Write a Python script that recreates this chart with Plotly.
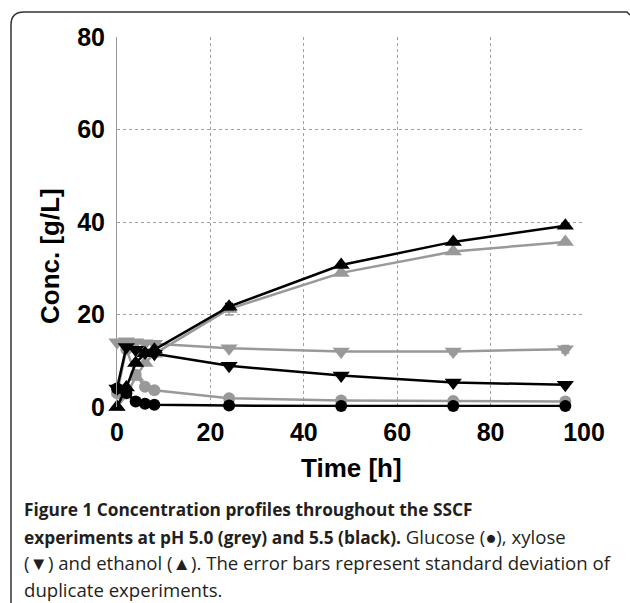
import plotly.graph_objects as go

# ---- data ----
time_h = [0, 2, 4, 6, 8, 24, 48, 72, 96]

grey_glucose = [3.0, 12.5, 7.0, 4.4, 3.6, 1.9, 1.4, 1.3, 1.2]
grey_xylose = [14.0, 14.2, 14.0, 13.8, 13.7, 12.7, 12.0, 12.0, 12.5]
grey_ethanol = [0.0, 2.5, 6.5, 9.5, 11.5, 21.2, 29.0, 33.6, 35.7]
grey_xylose_err = [0, 0, 0, 0, 0, 0.3, 0.3, 0.6, 0.8]
grey_ethanol_err = [0, 0, 0, 0, 0, 1.3, 0.4, 0.4, 0.3]

black_glucose = [4.0, 3.0, 1.2, 0.7, 0.5, 0.3, 0.2, 0.2, 0.2]
black_xylose = [4.0, 13.0, 12.4, 11.8, 11.5, 8.9, 6.8, 5.3, 4.8]
black_ethanol = [0.0, 4.2, 9.5, 11.6, 12.4, 21.7, 30.7, 35.7, 39.2]
black_ethanol_err = [0, 0, 0, 0, 0, 0.6, 0.3, 0.3, 0.4]

x_ticks = [0, 20, 40, 60, 80, 100]
y_ticks = [0, 20, 40, 60, 80]

REG = '<span style="font-size:18.6px">'
caption_lines = [
    "<b>Figure 1 Concentration profiles throughout the SSCF</b>",
    "<b>experiments at pH 5.0 (grey) and 5.5 (black).</b>" + REG + " Glucose (\u25cf), xylose</span>",
    REG + "(\u25bc) and ethanol (\u25b2). The error bars represent standard deviation of</span>",
    REG + "duplicate experiments.</span>",
]

GREY = "#999999"
BLACK = "#000000"

fig = go.Figure()


def add(y, color, symbol, size, err=None):
    kw = {}
    if err is not None:
        kw["error_y"] = dict(type="data", array=err, visible=True, color=color,
                             thickness=1.5, width=4)
    fig.add_trace(go.Scatter(
        x=time_h, y=y, mode="lines+markers",
        line=dict(color=color, width=2.5),
        marker=dict(symbol=symbol, size=size, color=color),
        cliponaxis=False, showlegend=False, **kw))


add(grey_glucose, GREY, "circle", 12)
add(grey_xylose, GREY, "triangle-down", 15, grey_xylose_err)
add(grey_ethanol, GREY, "triangle-up", 15, grey_ethanol_err)
add(black_glucose, BLACK, "circle", 12)
add(black_xylose, BLACK, "triangle-down", 15)
add(black_ethanol, BLACK, "triangle-up", 15, black_ethanol_err)

W, H = 630, 603
L, R, T, B = 117, 584, 37, 407
pw, ph = R - L, B - T


def px(xp):
    return (xp - L) / pw


def py(yp):
    return (B - yp) / ph


tick_font = dict(family="Liberation Sans, Arial, sans-serif", size=25, color="black")

fig.update_xaxes(range=[0, 100], tickvals=x_ticks, ticktext=[f"<b>{v}</b>" for v in x_ticks],
                 showgrid=True, gridcolor="#a0a0a0", griddash="dot", gridwidth=1,
                 zeroline=False, showline=False, ticks="", tickfont=tick_font,
                 ticklabelstandoff=8)
fig.update_yaxes(range=[0, 80], tickvals=y_ticks, ticktext=[f"<b>{v}</b>" for v in y_ticks],
                 showgrid=True, gridcolor="#a0a0a0", griddash="dot", gridwidth=1,
                 zeroline=False, showline=True, linecolor="#999999", linewidth=1,
                 ticks="", tickfont=tick_font, ticklabelstandoff=6)

annotations = [
    dict(text="<b>Time [h]</b>", x=px(351), y=py(468), xref="paper", yref="paper",
         showarrow=False, xanchor="center", yanchor="middle",
         font=dict(family="Liberation Sans, Arial, sans-serif", size=26, color="black")),
    dict(text="<b>Conc. [g/L]</b>", x=px(50), y=py(256), xref="paper", yref="paper",
         showarrow=False, xanchor="center", yanchor="middle", textangle=-90,
         font=dict(family="Liberation Sans, Arial, sans-serif", size=26, color="black")),
]
cap_y = [509, 536, 562, 589]
for line, yy in zip(caption_lines, cap_y):
    annotations.append(dict(text=line, x=px(22), y=py(yy), xref="paper", yref="paper",
                            showarrow=False, xanchor="left", yanchor="middle",
                            font=dict(family="Open Sans, sans-serif", size=17.3, color="#231f20")))

# outer caption frame: left and top edges with rounded top-left corner
x0, y0 = px(11), py(12)
xc, yc = px(24), py(25)
frame = (f"M {px(11)},{py(603)} L {x0},{yc} Q {x0},{y0} {xc},{y0} "
         f"L {px(627)},{y0} L {px(630)},{py(15)}")

fig.update_layout(
    width=W, height=H,
    margin=dict(l=L, r=W - R, t=T, b=H - B),
    paper_bgcolor="white", plot_bgcolor="white",
    annotations=annotations,
    shapes=[dict(type="path", path=frame, xref="paper", yref="paper",
                 line=dict(color="#333333", width=1.5))],
)

fig.write_html("out.html",
               config={"displayModeBar": False},
               post_script="document.body.style.margin='0';document.body.style.overflow='hidden';")
